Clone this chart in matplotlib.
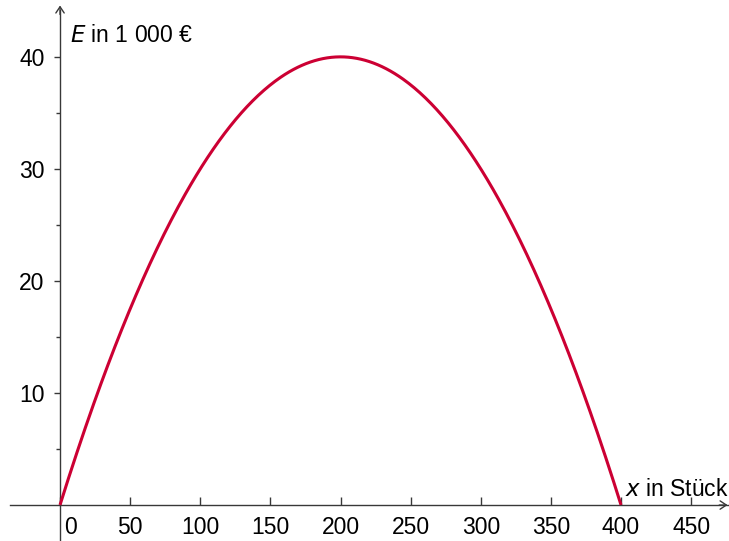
import matplotlib.pyplot as plt
import matplotlib.transforms as mtransforms
import numpy as np

# values (x in Stück, E in 1 000 €)
x_gelesen = [0, 25, 50, 75, 100, 125, 150, 175, 200,
             225, 250, 275, 300, 325, 350, 375, 400]
e_gelesen = [0, 9.4, 17.5, 24.4, 30, 34.4, 37.5, 39.4, 40,
             39.4, 37.5, 34.4, 30, 24.4, 17.5, 9.4, 0]
x_ticks = [0, 50, 100, 150, 200, 250, 300, 350, 400, 450]
y_ticks = [10, 20, 30, 40]
y_minor = [5, 15, 25, 35]

plt.rcParams['font.family'] = ['Liberation Sans', 'DejaVu Sans']

fig = plt.figure(figsize=(7.29, 5.41), dpi=100)
ax = fig.add_axes([0, 0, 1, 1])
ax.set_xlim(-42.8, 477.0)
ax.set_ylim(-3.21, 45.09)

# smooth curve through the read points
koeff = np.polyfit(x_gelesen, e_gelesen, 2)
xs = np.linspace(x_gelesen[0], x_gelesen[-1], 400)
ax.plot(xs, np.polyval(koeff, xs), color='#cc0033', lw=2.2,
        solid_capstyle='butt', zorder=3)

achse = '#383838'
for s in ['top', 'right']:
    ax.spines[s].set_visible(False)
ax.spines['left'].set_position(('data', 0))
ax.spines['bottom'].set_position(('data', 0))
ax.spines['left'].set_bounds(-3.21, 44.2)
ax.spines['bottom'].set_bounds(-35.6, 476.0)
for s in ['left', 'bottom']:
    ax.spines[s].set_color(achse)
    ax.spines[s].set_linewidth(1.0)
ax.patch.set_visible(False)

# arrow heads
ax.annotate('', xy=(476.0, 0), xytext=(470.0, 0),
            arrowprops=dict(arrowstyle='->,head_length=0.45,head_width=0.3',
                            color=achse, lw=1.0, shrinkA=0, shrinkB=0))
ax.annotate('', xy=(0, 44.6), xytext=(0, 43.8),
            arrowprops=dict(arrowstyle='->,head_length=0.45,head_width=0.3',
                            color=achse, lw=1.0, shrinkA=0, shrinkB=0))

ax.set_xticks(x_ticks)
ax.set_xticklabels([str(v) for v in x_ticks])
ax.set_yticks(y_ticks)
ax.set_yticklabels([str(v) for v in y_ticks])
ax.set_yticks(y_minor, minor=True)
ax.tick_params(axis='x', direction='in', length=6, width=1, color=achse,
               pad=8, labelsize=16.5, labelcolor='black')
ax.tick_params(axis='y', which='major', direction='out', length=4, width=1,
               color=achse, pad=7, labelsize=16.5, labelcolor='black')
ax.tick_params(axis='y', which='minor', direction='out', length=3, width=1,
               color=achse)

# shift the "0" label to the right of the y axis
lbl0 = ax.get_xticklabels()[0]
lbl0.set_transform(lbl0.get_transform() +
                   mtransforms.ScaledTranslation(10 / 100, 0, fig.dpi_scale_trans))

ax.text(7, 41.9, r'$\mathit{E}$ in 1 000 €', fontsize=16.5, ha='left',
        va='center', color='black')
ax.text(403, 1.4, r'$\mathit{x}$ in Stück', fontsize=16.5, ha='left',
        va='center', color='black')

fig.savefig('out.png', dpi=100)
